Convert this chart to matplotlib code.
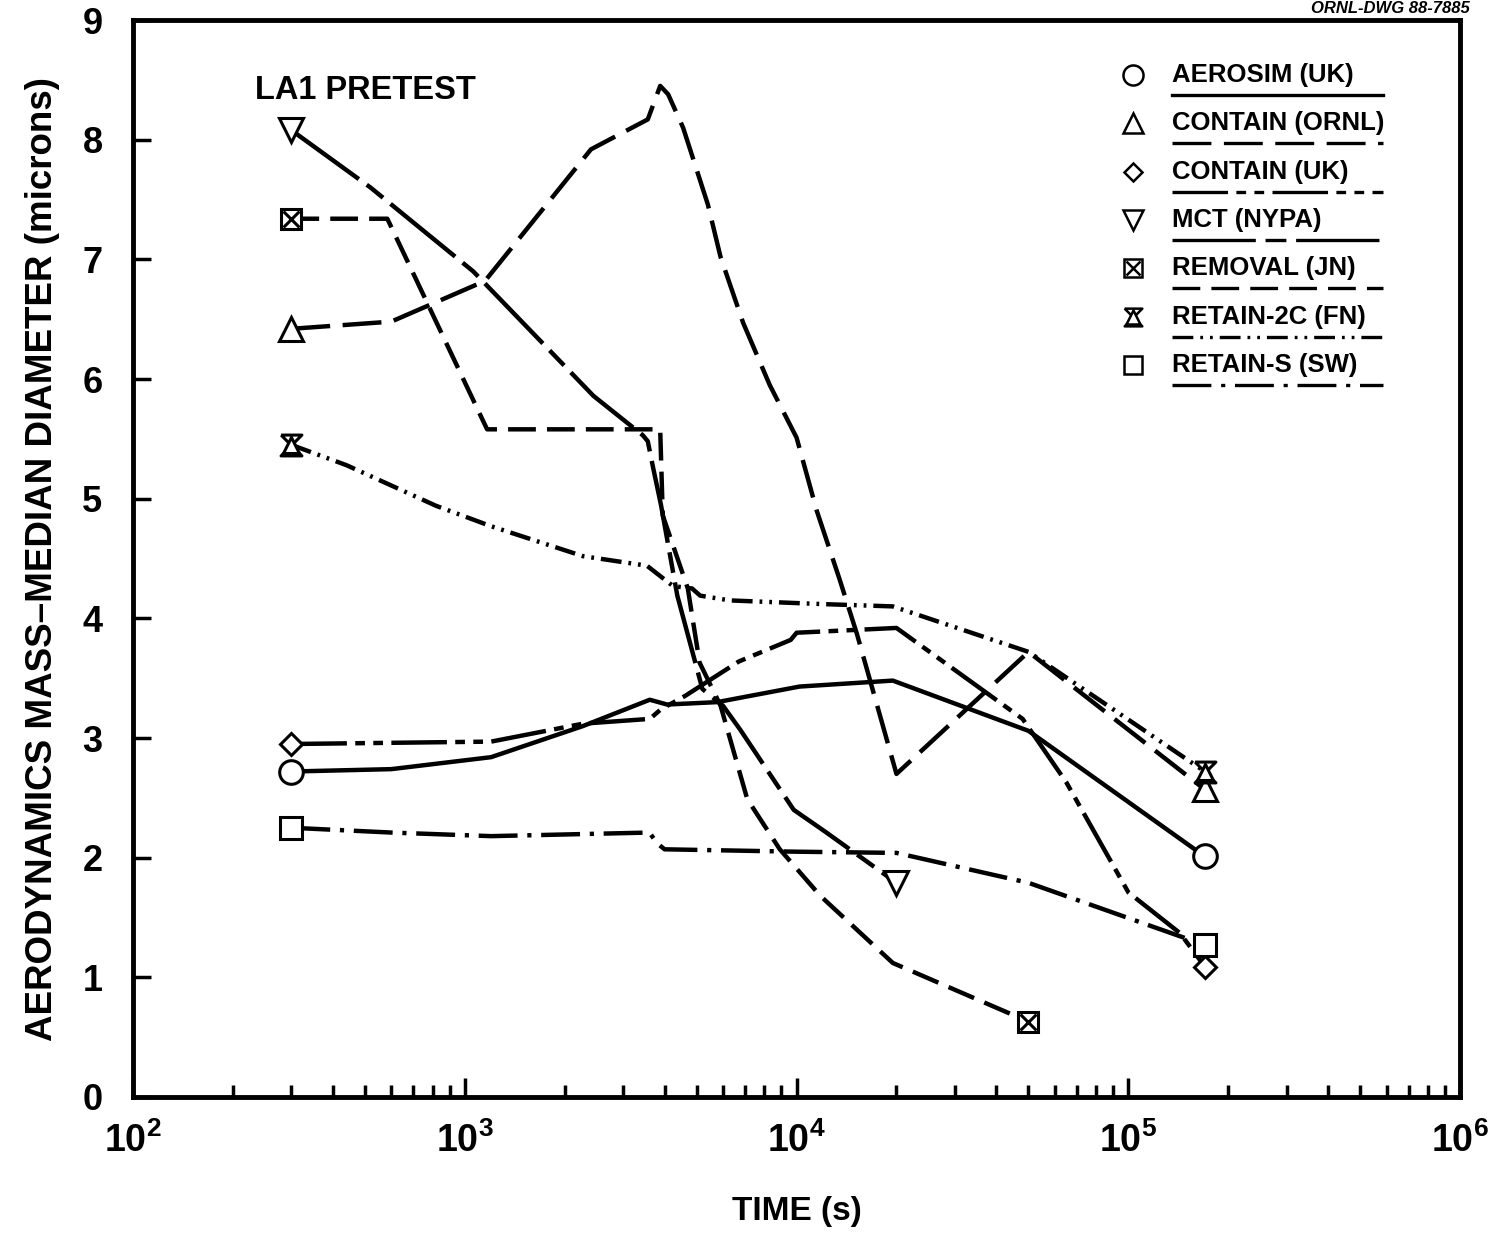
import numpy as np
import matplotlib
matplotlib.use("Agg")
import matplotlib.pyplot as plt
from matplotlib.path import Path
from matplotlib.ticker import FixedLocator, FuncFormatter, NullFormatter

plt.rcParams['font.family'] = ['Liberation Sans', 'DejaVu Sans']
plt.rcParams['font.weight'] = 'bold'
plt.rcParams['mathtext.fontset'] = 'custom'
plt.rcParams['mathtext.bf'] = 'Liberation Sans:bold'
plt.rcParams['mathtext.rm'] = 'Liberation Sans:bold'
plt.rcParams['lines.scale_dashes'] = False

# ---- data (time in s, diameter in microns) ----
aerosim_t = [300, 600, 1200, 2270, 3610, 4070, 5760, 10200, 19500, 50000, 170000]
aerosim_d = [2.72, 2.74, 2.84, 3.10, 3.32, 3.28, 3.30, 3.43, 3.48, 3.06, 2.01]

ornl_t = [300, 600, 1150, 2400, 3560, 3880, 4100, 4550, 5400, 5900, 6900, 8300,
          10000, 11500, 13500, 15200, 20000, 50000, 170000]
ornl_d = [6.42, 6.48, 6.82, 7.92, 8.17, 8.45, 8.38, 8.10, 7.46, 7.02, 6.47, 5.95,
          5.51, 4.90, 4.32, 3.87, 2.70, 3.72, 2.57]

cuk_t = [300, 600, 1200, 2270, 3610, 3900, 4600, 6700, 9600, 10000, 20000, 48000,
         65000, 100000, 143000, 170000]
cuk_d = [2.95, 2.96, 2.97, 3.12, 3.16, 3.24, 3.35, 3.64, 3.82, 3.88, 3.92, 3.16,
         2.63, 1.71, 1.37, 1.09]

mct_t = [300, 520, 1060, 2030, 2440, 3440, 3560, 3700, 3900, 4370, 5200, 6000,
         6760, 9800, 12300, 20000]
mct_d = [8.08, 7.60, 6.90, 6.09, 5.86, 5.53, 5.48, 5.25, 4.95, 4.19, 3.41, 3.27,
         3.07, 2.40, 2.21, 1.79]

removal_t = [300, 584, 1167, 3880, 3950, 4700, 5100, 5900, 7100, 8900, 11800, 19500, 50000]
removal_d = [7.34, 7.34, 5.58, 5.58, 4.86, 4.25, 3.63, 3.27, 2.49, 2.07, 1.68, 1.12, 0.63]

r2c_t = [300, 440, 820, 1200, 2270, 3540, 4240, 4840, 5120, 6300, 11800, 19500, 50000, 170000]
r2c_d = [5.45, 5.28, 4.94, 4.77, 4.52, 4.44, 4.27, 4.25, 4.19, 4.15, 4.12, 4.10, 3.72, 2.72]

rs_t = [300, 600, 1200, 3600, 3800, 4000, 10000, 20000, 50000, 170000]
rs_d = [2.25, 2.21, 2.18, 2.21, 2.12, 2.07, 2.05, 2.04, 1.79, 1.27]

labels = ['AEROSIM (UK)', 'CONTAIN (ORNL)', 'CONTAIN (UK)', 'MCT (NYPA)',
          'REMOVAL (JN)', 'RETAIN-2C (FN)', 'RETAIN-S (SW)']

# hourglass marker for RETAIN-2C
hourglass = Path([(-1, 1), (1, 1), (-1, -1), (1, -1), (-1, 1)],
                 [Path.MOVETO, Path.LINETO, Path.LINETO, Path.LINETO, Path.LINETO])

series = [
    (aerosim_t, aerosim_d, '-', [('o', 17)]),
    (ornl_t, ornl_d, (0, (28, 9)), [('^', 17)]),
    (cuk_t, cuk_d, (0, (40, 6, 7, 6, 7, 6)), [('D', 11)]),
    (mct_t, mct_d, (0, (60, 7, 15, 7)), [('v', 17)]),
    (removal_t, removal_d, (0, (20, 8)), [('s', 15), ('x', 12)]),
    (r2c_t, r2c_d, (0, (15, 5, 2, 5, 2, 5)), [(hourglass, 15), ('^', 12)]),
    (rs_t, rs_d, (0, (28, 7, 3, 7)), [('s', 16)]),
]

LW = 3.2

fig = plt.figure(figsize=(15.07, 12.56), dpi=100)
ax = fig.add_axes([0.0883, 0.1266, 0.8806, 0.8574])

for t, d, ls, mks in series:
    ax.plot(t, d, color='black', lw=LW, linestyle=ls, zorder=2)
    ends_t = [t[0], t[-1]]
    ends_d = [d[0], d[-1]]
    for mk, ms in mks:
        ax.plot(ends_t, ends_d, linestyle='none', marker=mk, ms=ms, mfc='white',
                mec='black', mew=2.2, zorder=3)

ax.set_xscale('log')
ax.set_xlim(100, 1e6)
ax.set_ylim(0, 9)

ax.xaxis.set_major_locator(FixedLocator([1e2, 1e3, 1e4, 1e5, 1e6]))
ax.xaxis.set_major_formatter(FuncFormatter(lambda v, p: r'$\mathbf{10^{%d}}$' % round(np.log10(v))))
minors = [m * 10 ** e for e in range(2, 6) for m in range(2, 10)]
ax.xaxis.set_minor_locator(FixedLocator(minors))
ax.xaxis.set_minor_formatter(NullFormatter())
ax.set_yticks(range(0, 10))

ax.tick_params(axis='x', which='major', direction='in', length=14, width=2.5,
               labelsize=27, pad=18)
ax.tick_params(axis='x', which='minor', direction='in', length=9, width=2.5)
ax.tick_params(axis='y', which='major', direction='in', length=13, width=2.5,
               labelsize=26, pad=22)
for lab in ax.get_yticklabels():
    lab.set_fontweight('bold')

for sp in ax.spines.values():
    sp.set_linewidth(3.5)

ax.set_xlabel('TIME (s)', fontsize=24, fontweight='bold', labelpad=26)
ax.set_ylabel('AERODYNAMICS MASS\u2013MEDIAN DIAMETER (microns)', fontsize=26.5,
              fontweight='bold', labelpad=16)

ax.text(0.092, 0.935, 'LA1 PRETEST', transform=ax.transAxes, fontsize=23.5,
        fontweight='bold', va='center', ha='left')

# legend drawn by hand: marker, label, underline in the series line style
row0 = 0.949
step = 0.0449
for i, ((t, d, ls, mks), lab) in enumerate(zip(series, labels)):
    y = row0 - i * step
    for mk, ms in mks:
        ax.plot([0.7536], [y], transform=ax.transAxes, linestyle='none', marker=mk,
                ms=ms * 0.85, mfc='white', mec='black', mew=1.8, clip_on=False, zorder=4)
    ax.text(0.783, y, lab, transform=ax.transAxes, fontsize=18.5, fontweight='bold',
            va='center', ha='left')
    ax.plot([0.783, 0.942], [y - 0.0185, y - 0.0185], transform=ax.transAxes,
            color='black', lw=2.4, linestyle=ls, zorder=4)

fig.text(0.975, 0.999, 'ORNL-DWG 88-7885', fontsize=12, fontweight='bold',
         style='italic', ha='right', va='top')

fig.savefig('out.png', dpi=100)
